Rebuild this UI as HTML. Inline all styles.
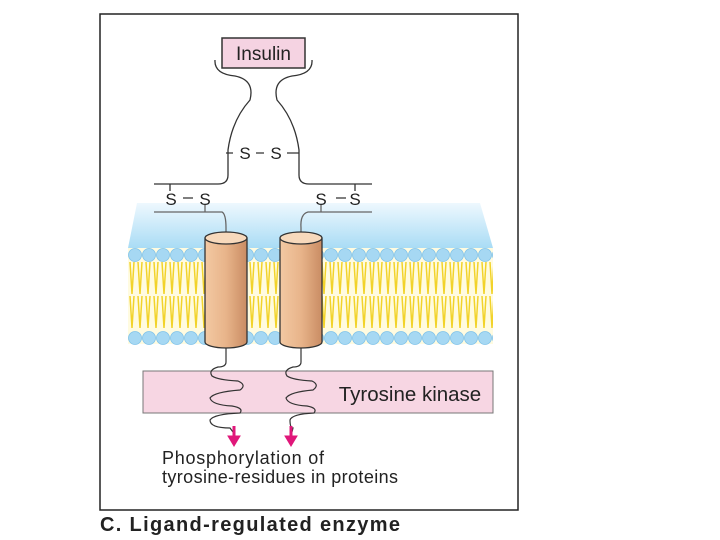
<!DOCTYPE html>
<html><head><meta charset="utf-8"><style>
body{margin:0;background:#fff;width:720px;height:540px;overflow:hidden}
svg{display:block}
text{font-family:"Liberation Sans",sans-serif}
</style></head><body>
<svg width="720" height="540" viewBox="0 0 720 540">
<defs>
<linearGradient id="blue" x1="0" y1="0" x2="0" y2="1">
<stop offset="0" stop-color="#eef8fe"/><stop offset="1" stop-color="#a9dcf5"/></linearGradient>
<linearGradient id="cyl" x1="0" y1="0" x2="1" y2="0">
<stop offset="0" stop-color="#f3c9a3"/><stop offset="0.5" stop-color="#e8b48a"/><stop offset="1" stop-color="#c98c63"/></linearGradient>
<pattern id="tails" x="0" y="262" width="8" height="34" patternUnits="userSpaceOnUse">
<path d="M2 0 L4 32 M6 0 L4 32" stroke="#f2d32a" stroke-width="1.5" fill="none"/></pattern>
<pattern id="heads" x="128" y="0" width="14" height="14" patternUnits="userSpaceOnUse">
<circle cx="7" cy="7" r="6.5" fill="#a6d8f3" stroke="#7fc2ea" stroke-width="0.8"/></pattern>
</defs>
<rect x="100" y="14" width="418" height="496" fill="none" stroke="#222" stroke-width="1.5"/>
<polygon points="137,203 480,203 493,248 128,248" fill="url(#blue)"/>
<rect x="128" y="248" width="365" height="96" fill="#fffbe0"/>
<rect x="128" y="262" width="365" height="68" fill="url(#tails)"/>
<g transform="translate(0,248)"><rect x="128" y="0" width="365" height="14" fill="url(#heads)"/></g>
<g transform="translate(0,331)"><rect x="128" y="0" width="365" height="14" fill="url(#heads)"/></g>
<rect x="222" y="38" width="83" height="30" fill="#f5d3e2" stroke="#333" stroke-width="1.5"/>
<text x="263.5" y="60" font-size="19" text-anchor="middle" fill="#222">Insulin</text>
<g fill="none" stroke="#333" stroke-width="1.3">
<path d="M215,60 Q214,74 235,76 Q255,80 250,100 Q232,120 228,150 L228,175 Q228,184 218,184 L154,184"/>
<path d="M312,60 Q313,74 292,76 Q272,80 277,100 Q295,120 299,150 L299,175 Q299,184 309,184 L372,184"/>
<path d="M226,153 L233,153 M256,153 L264,153 M287,153 L299,153"/>
<path d="M170,184 L170,191 M355,184 L355,191"/>
<path d="M183,198 L193,198 M336,198 L346,198"/>
</g>
<g fill="none" stroke="#666" stroke-width="1.3">
<path d="M154,212 L222,212 Q226,214 226,228 L226,236"/>
<path d="M372,212 L308,212 Q300,214 301,228 L301,236"/>
<path d="M205,212 L205,205 M321,212 L321,205"/>
</g>
<g font-size="17" fill="#222" text-anchor="middle">
<text x="245" y="159">S</text><text x="276" y="159">S</text>
<text x="171" y="205">S</text><text x="205" y="205">S</text>
<text x="321" y="205">S</text><text x="355" y="205">S</text>
</g>
<g stroke="#333" stroke-width="1.3">
<path d="M205,238 L205,342 A21,6 0 0 0 247,342 L247,238 Z" fill="url(#cyl)"/>
<ellipse cx="226" cy="238" rx="21" ry="6" fill="#f7d9bc"/>
<path d="M280,238 L280,342 A21,6 0 0 0 322,342 L322,238 Z" fill="url(#cyl)"/>
<ellipse cx="301" cy="238" rx="21" ry="6" fill="#f7d9bc"/>
</g>
<rect x="143" y="371" width="350" height="42" fill="#f7d6e3" stroke="#777" stroke-width="1"/>
<text x="410" y="401" font-size="20.5" text-anchor="middle" fill="#222">Tyrosine kinase</text>
<g fill="none" stroke="#333" stroke-width="1.2">
<path d="M226,348 L226,362 Q226,367 218,367 Q208,370 212,376 Q218,380 238,381 Q247,385 240,390 Q214,392 210,398 Q212,405 232,406 Q244,408 240,413 Q214,414 210,420 Q210,428 230,428 L233,432"/>
<path d="M301,348 L301,362 Q301,367 293,367 Q283,370 287,376 Q293,380 312,381 Q320,385 313,390 Q290,392 286,398 Q288,405 307,406 Q318,408 314,413 Q292,414 290,420 Q290,428 293,428 L292,432"/>
</g>
<g fill="#e0177a" stroke="#e0177a">
<path d="M234,426 L234,438" stroke-width="3"/><polygon points="228,436 240,436 234,446"/>
<path d="M291,426 L291,438" stroke-width="3"/><polygon points="285,436 297,436 291,446"/>
</g>
<text x="162" y="464" font-size="18" fill="#222" textLength="162">Phosphorylation of</text>
<text x="162" y="483" font-size="18" fill="#222" textLength="236">tyrosine-residues in proteins</text>
<text x="100" y="531" font-size="20" font-weight="bold" fill="#222" textLength="300">C. Ligand-regulated enzyme</text>
</svg>
</body></html>
